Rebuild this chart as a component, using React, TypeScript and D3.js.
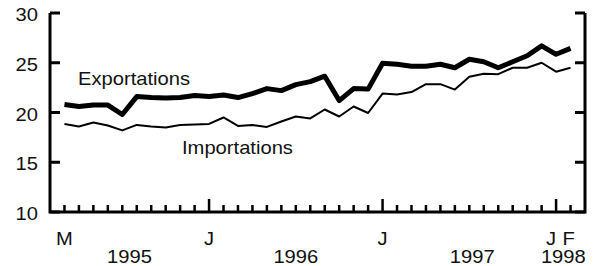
import React from 'react';
import * as d3 from 'd3';

// Monthly values, March 1995 to February 1998 (billions)
const exportations = [20.8, 20.6, 20.75, 20.75, 19.8, 21.6, 21.5, 21.45, 21.5, 21.7, 21.6, 21.75, 21.5, 21.9, 22.4, 22.2, 22.8, 23.1, 23.65, 21.2, 22.4, 22.35, 24.95, 24.85, 24.65, 24.65, 24.85, 24.5, 25.35, 25.1, 24.5, 25.1, 25.7, 26.7, 25.85, 26.45];
const importations = [18.85, 18.6, 19.0, 18.7, 18.2, 18.75, 18.6, 18.5, 18.75, 18.8, 18.85, 19.5, 18.65, 18.75, 18.55, 19.1, 19.6, 19.4, 20.3, 19.6, 20.6, 19.95, 21.9, 21.8, 22.05, 22.85, 22.85, 22.3, 23.6, 23.9, 23.85, 24.5, 24.5, 25.0, 24.1, 24.5];

const yTicks = [10, 15, 20, 25, 30];
const monthLabels = [
  { idx: 0, text: 'M', dx: 0 },
  { idx: 10, text: 'J', dx: 0 },
  { idx: 22, text: 'J', dx: 0 },
  { idx: 34, text: 'J', dx: -5 },
  { idx: 35, text: 'F', dx: -2 },
];
const majorTicks = [10, 22, 34];
const yearLabels = [
  { idx: 4.5, text: '1995' },
  { idx: 16, text: '1996' },
  { idx: 28.2, text: '1997' },
  { idx: 34.5, text: '1998' },
];

const W = 596;
const H = 266;
const left = 50, right = 585, top = 13, bottom = 212;
const font = '"Liberation Sans", Arial, sans-serif';
const stretch = 1.12; // the original lettering is a bit wider than Arial

function Label({ x, y, anchor = 'start', children }: { x: number; y: number; anchor?: string; children: React.ReactNode }) {
  return (
    <text transform={`translate(${x},${y}) scale(${stretch},1)`} textAnchor={anchor}>{children}</text>
  );
}

export default function App() {
  const x = d3.scaleLinear().domain([-1, 36]).range([left, right]);
  const y = d3.scaleLinear().domain([10, 30]).range([bottom, top]);

  const line = d3.line<number>()
    .x((_, i) => x(i))
    .y(d => y(d));

  const months = d3.range(0, exportations.length);

  return (
    <svg width={W} height={H} style={{ position: 'absolute', left: 0, top: 0, background: '#fff' }}
      fontFamily={font} fontSize={18} fill="#111">
      {/* axes frame */}
      <path d={`M${left},${top}V${bottom}H${right}V${top}`} fill="none" stroke="#000" strokeWidth={3} />

      {yTicks.map(t => (
        <g key={t}>
          <line x1={left} x2={left + 10} y1={y(t)} y2={y(t)} stroke="#000" strokeWidth={3} />
          <line x1={right - 10} x2={right} y1={y(t)} y2={y(t)} stroke="#000" strokeWidth={3} />
          <Label x={38} y={y(t) + 8} anchor="end">{t}</Label>
        </g>
      ))}

      {months.map(i => (
        <line key={i} x1={x(i)} x2={x(i)} y1={bottom}
          y2={bottom - (majorTicks.includes(i) ? 13 : 7)} stroke="#000" strokeWidth={2.5} />
      ))}

      {monthLabels.map((m, k) => (
        <Label key={k} x={x(m.idx) + m.dx} y={245} anchor="middle">{m.text}</Label>
      ))}
      {yearLabels.map((m, k) => (
        <Label key={k} x={x(m.idx)} y={263} anchor="middle">{m.text}</Label>
      ))}

      <path d={line(importations) ?? ''} fill="none" stroke="#000" strokeWidth={2} strokeLinejoin="round" />
      <path d={line(exportations) ?? ''} fill="none" stroke="#000" strokeWidth={5} strokeLinejoin="round" />

      <Label x={78} y={85}>Exportations</Label>
      <Label x={182} y={154}>Importations</Label>
    </svg>
  );
}
